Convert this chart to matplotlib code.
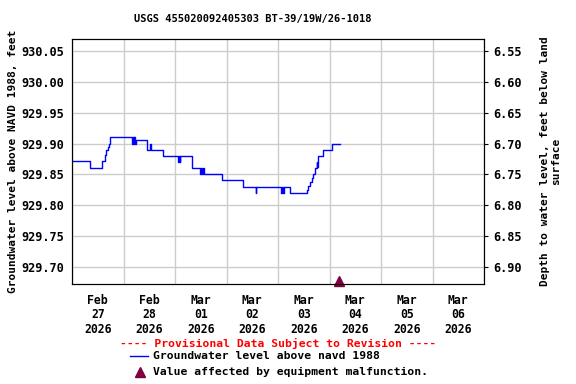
import numpy as np
import matplotlib
matplotlib.use("Agg")
import matplotlib.pyplot as plt
from matplotlib.lines import Line2D

# hours since 2026-02-27 00:00 and groundwater elevation (ft, NAVD 1988)
hours = [0.0, 8.4, 14.1, 15.2, 16.0, 16.6, 17.2, 17.8,
         28.1, 28.4, 28.7, 29.0, 29.3, 29.6, 34.8, 36.4, 36.7, 42.5,
         49.5, 49.8, 50.2, 50.5, 55.8, 59.6, 60.2, 60.6, 61.0, 61.4,
         69.8, 79.8, 85.6, 85.9, 97.4, 97.8, 98.2, 98.6, 99.0,
         101.6, 109.4, 110.1, 110.9, 111.7, 112.4, 113.2, 114.0, 114.4,
         114.8, 117.1, 121.0, 124.9]
level = [929.872, 929.860, 929.872, 929.882, 929.889, 929.895, 929.900, 929.910,
         929.900, 929.910, 929.900, 929.910, 929.900, 929.905, 929.890, 929.900, 929.890, 929.880,
         929.870, 929.880, 929.870, 929.880, 929.860, 929.850, 929.860, 929.850, 929.860, 929.850,
         929.840, 929.830, 929.820, 929.830, 929.820, 929.830, 929.820, 929.830, 929.830,
         929.820, 929.825, 929.831, 929.838, 929.844, 929.850, 929.860, 929.870, 929.862,
         929.880, 929.890, 929.899, 929.900]
flag_hour = [124.6]

day_labels = ["Feb\n27\n2026", "Feb\n28\n2026", "Mar\n01\n2026", "Mar\n02\n2026",
              "Mar\n03\n2026", "Mar\n04\n2026", "Mar\n05\n2026", "Mar\n06\n2026"]
left_ticks = [930.05, 930.00, 929.95, 929.90, 929.85, 929.80, 929.75, 929.70]
right_ticks = [6.55, 6.60, 6.65, 6.70, 6.75, 6.80, 6.85, 6.90]
datum = 936.60

font = "DejaVu Sans Mono"
plt.rcParams['font.family'] = font
plt.rcParams['font.weight'] = 'bold'

fig = plt.figure(figsize=(5.76, 3.84), dpi=100)
ax = fig.add_axes([72/576, 1-284/384, (484-72)/576, (284-39)/384])

d = np.array(hours) / 24.0
ax.plot(d, level, drawstyle='steps-post', color='#0000ff', lw=1)

ymin, ymax = 929.672, 930.0696
ax.set_xlim(0, 8)
ax.set_ylim(ymin, ymax)
ax.plot(np.array(flag_hour) / 24.0, [ymin + 0.005], marker='^', ms=7,
        color='#800040', ls='none', clip_on=False, zorder=5)

ax.set_xticks(np.arange(0, 9))
ax.set_xticklabels([])
ax.set_xticks(np.arange(8) + 0.5, minor=True)
ax.set_xticklabels(day_labels, minor=True, fontsize=8.3, fontweight='bold',
                   linespacing=1.15)
ax.tick_params(axis='x', which='both', length=0, pad=7)
ax.grid(True, axis='x', which='major', color='#cccccc', lw=1)
ax.set_yticks(left_ticks)
ax.set_yticklabels(["%.2f" % v for v in left_ticks], fontsize=8.6, fontweight='bold')
ax.tick_params(axis='y', length=0, pad=6)
ax.grid(True, axis='y', color='#cccccc', lw=1)
ax.set_axisbelow(True)
ax.set_ylabel("Groundwater level above NAVD 1988, feet", fontsize=8,
              fontweight='bold', labelpad=2)

ax2 = ax.twinx()
ax2.set_ylim(datum - ymin, datum - ymax)
ax2.set_yticks(right_ticks)
ax2.set_yticklabels(["%.2f" % v for v in right_ticks], fontsize=8.6, fontweight='bold')
ax2.tick_params(axis='y', length=3, pad=4)
ax2.set_ylabel("Depth to water level, feet below land\nsurface", fontsize=8,
               fontweight='bold', labelpad=13, linespacing=1.1)

fig.text(253/576, 1-19/384, "USGS 455020092405303 BT-39/19W/26-1018",
         ha='center', va='center', fontsize=7.5, fontweight='bold')
fig.text(278/576, 1-343/384, "---- Provisional Data Subject to Revision ----",
         ha='center', va='center', fontsize=8.2, fontweight='bold', color='red')
fig.add_artist(Line2D([130/576, 148/576], [1-356/384, 1-356/384], color='#0000ff', lw=1))
fig.text(153/576, 1-356/384, "Groundwater level above navd 1988",
         ha='left', va='center', fontsize=8.2, fontweight='bold')
fig.add_artist(Line2D([140/576], [1-372/384], marker='^', ms=7, color='#800040'))
fig.text(153/576, 1-372/384, "Value affected by equipment malfunction.",
         ha='left', va='center', fontsize=8.2, fontweight='bold')

fig.savefig("out.png", dpi=100)
